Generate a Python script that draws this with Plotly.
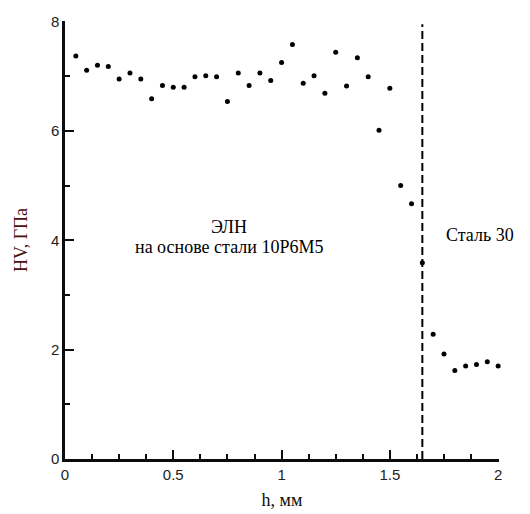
import plotly.graph_objects as go

h_mm = [0.05, 0.10, 0.15, 0.20, 0.25, 0.30, 0.35, 0.40, 0.45, 0.50,
        0.55, 0.60, 0.65, 0.70, 0.75, 0.80, 0.85, 0.90, 0.95, 1.00,
        1.05, 1.10, 1.15, 1.20, 1.25, 1.30, 1.35, 1.40, 1.45, 1.50,
        1.55, 1.60, 1.65, 1.70, 1.75, 1.80, 1.85, 1.90, 1.95, 2.00]
hv_gpa = [7.37, 7.11, 7.20, 7.18, 6.95, 7.06, 6.95, 6.59, 6.83, 6.80,
          6.80, 6.99, 7.01, 6.99, 6.54, 7.06, 6.83, 7.06, 6.92, 7.25,
          7.58, 6.87, 7.01, 6.69, 7.44, 6.82, 7.34, 6.99, 6.01, 6.78,
          5.00, 4.67, 3.59, 2.28, 1.92, 1.62, 1.70, 1.73, 1.78, 1.70]

boundary_x = 1.65
boundary_top = 7.95
x_ticks = [0, 0.5, 1, 1.5, 2]
x_tick_labels = ["0", "0.5", "1", "1.5", "2"]
y_ticks = [0, 2, 4, 6, 8]
y_tick_labels = ["0", "2", "4", "6", "8"]

serif = "Times New Roman, Liberation Serif, serif"
sans = "Liberation Sans, Arial, sans-serif"
ink = "#000000"
axis_ink = "rgb(12,12,12)"

fig = go.Figure()
fig.add_trace(go.Scatter(
    x=[boundary_x, boundary_x], y=[0, boundary_top], mode="lines",
    line=dict(color=ink, width=2, dash="8px,4px"),
    hoverinfo="skip", showlegend=False))
fig.add_trace(go.Scatter(
    x=h_mm, y=hv_gpa, mode="markers",
    marker=dict(color=ink, size=5),
    showlegend=False, cliponaxis=False))

fig.add_annotation(x=0.757, y=4.24, text="ЭЛН", showarrow=False,
                   font=dict(family=serif, size=18, color=ink))
fig.add_annotation(x=0.757, y=3.87, text="на основе стали 10Р6М5", showarrow=False,
                   font=dict(family=serif, size=18, color=ink))
fig.add_annotation(x=1.915, y=4.1, text="Сталь 30", showarrow=False,
                   font=dict(family=serif, size=18, color=ink))

fig.update_xaxes(
    range=[0, 2.004], tickvals=x_ticks, ticktext=x_tick_labels,
    showgrid=False, zeroline=False, showline=True, linecolor=axis_ink, linewidth=2.5,
    ticks="inside", ticklen=9, tickwidth=2, tickcolor=axis_ink,
    minor=dict(ticks="inside", ticklen=5, tickwidth=2, tickcolor=axis_ink, dtick=0.125, showgrid=False),
    tickfont=dict(family=sans, size=15, color="#222"),
    title=dict(text="h, мм", font=dict(family=serif, size=18, color="#111"), standoff=12),
    automargin=False,
)
fig.update_yaxes(
    range=[0, 8.01], tickvals=y_ticks, ticktext=y_tick_labels,
    showgrid=False, zeroline=False, showline=True, linecolor=axis_ink, linewidth=2.5,
    ticks="inside", ticklen=9, tickwidth=2, tickcolor=axis_ink,
    minor=dict(ticks="inside", ticklen=5, tickwidth=2, tickcolor=axis_ink, dtick=1, showgrid=False),
    tickfont=dict(family=sans, size=15, color="#222"),
    title=dict(text="HV, ГПа", font=dict(family=serif, size=18, color="#4a1010"), standoff=19),
    automargin=False,
)

fig.update_layout(
    width=530, height=514,
    margin=dict(l=65, r=31, t=21, b=55, pad=0),
    plot_bgcolor="white", paper_bgcolor="white",
)

fig.write_html("out.html")
